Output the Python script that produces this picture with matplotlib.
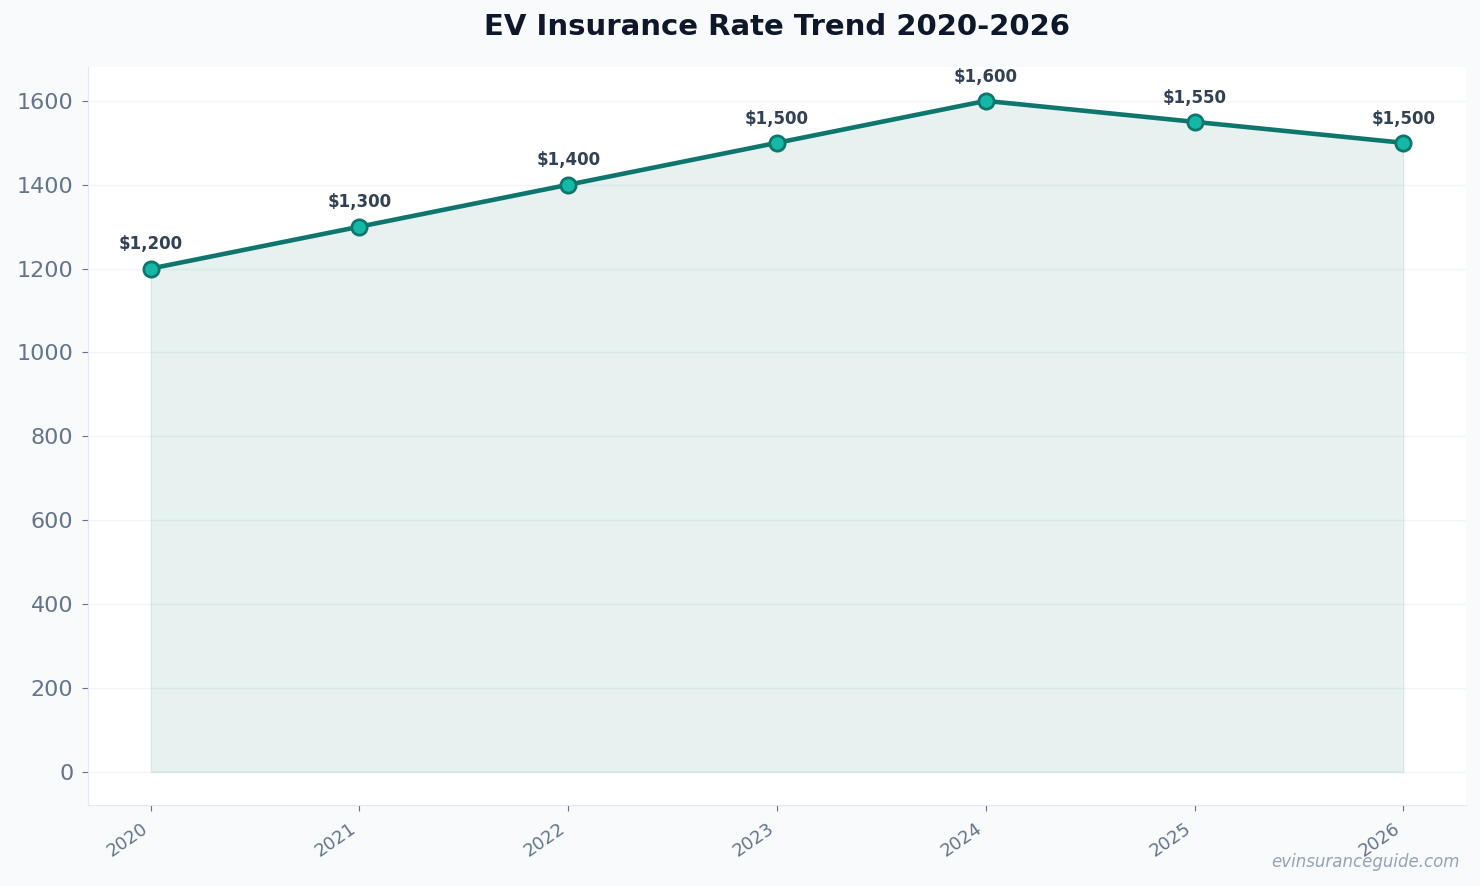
import matplotlib.pyplot as plt

# data
years = [2020, 2021, 2022, 2023, 2024, 2025, 2026]
rates = [1200, 1300, 1400, 1500, 1600, 1550, 1500]

fig, ax = plt.subplots(figsize=(14.8, 8.86), dpi=100)
fig.patch.set_facecolor("#f8fafc")
ax.set_facecolor("white")

ax.fill_between(years, rates, 0, color="#0f766e", alpha=0.1)
ax.plot(years, rates, color="#0f766e", linewidth=3.3, marker="o", markersize=11,
        markerfacecolor="#14b8a6", markeredgecolor="#0f766e", markeredgewidth=2, zorder=3)

for x, y in zip(years, rates):
    ax.annotate(f"${y:,}", (x, y), xytext=(0, 11), textcoords="offset points",
                ha="center", va="bottom", fontsize=12, fontweight="bold", color="#334155")

ax.set_title("EV Insurance Rate Trend 2020-2026", fontsize=21, fontweight="bold",
             color="#0f172a", pad=23)

ax.set_xticks(years)
ax.set_xticklabels([str(y) for y in years], rotation=35, ha="right", fontsize=13)
ax.tick_params(axis="x", colors="#64748b", length=4, pad=6)
ax.tick_params(axis="y", colors="#64748b", labelsize=16, length=4, pad=6.5)
ax.grid(axis="y", color="#f1f5f9", linewidth=1)
ax.set_axisbelow(True)

for s in ["top", "right"]:
    ax.spines[s].set_visible(False)
for s in ["left", "bottom"]:
    ax.spines[s].set_color("#e2e8f0")

fig.text(0.986, 0.017, "evinsuranceguide.com", ha="right", va="bottom",
         fontsize=12, style="italic", color="#94a3b8")

fig.subplots_adjust(left=0.0595, right=0.9905, top=0.924, bottom=0.091)
fig.savefig("out.png", facecolor=fig.get_facecolor())
